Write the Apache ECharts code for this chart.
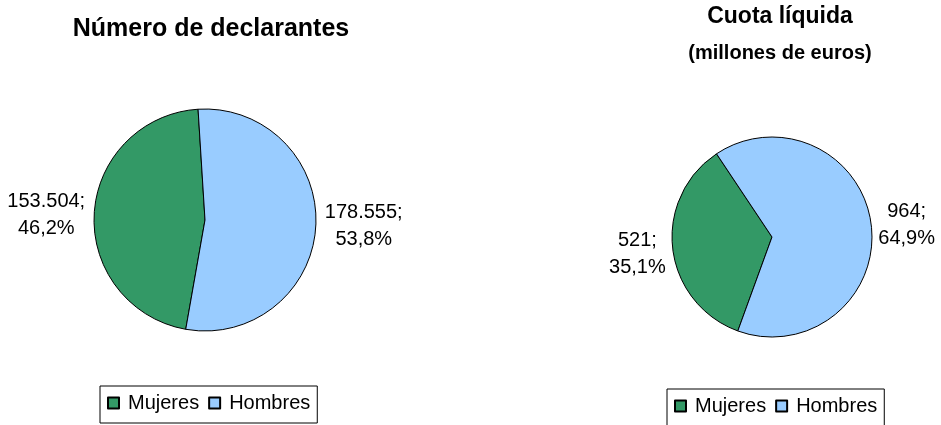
<!DOCTYPE html>
<html>
<head>
<meta charset="utf-8">
<script src="https://cdn.jsdelivr.net/npm/echarts@6/dist/echarts.min.js"></script>
<style>
html,body{margin:0;padding:0;background:#fff;}
#c{width:941px;height:425px;}
</style>
</head>
<body>
<div id="c"></div>
<script>
const categories = ['Mujeres', 'Hombres'];
const declarantes = [153504, 178555];
const cuotaLiquida = [521, 964];
const titleLeft = 'Número de declarantes';
const titleRight = 'Cuota líquida';
const subtitleRight = '(millones de euros)';
const colors = ['#339966', '#99CCFF'];

function fmtThousands(v) {
  return String(v).replace(/\B(?=(\d{3})+(?!\d))/g, '.');
}
function fmtLabel(p) {
  return fmtThousands(p.value) + ';\n' + p.percent.toFixed(1).replace('.', ',') + '%';
}
function mkData(vals) {
  return categories.map((n, i) => ({ name: n, value: vals[i] }));
}
const FONT = '"Liberation Sans", Arial, sans-serif';
function centerLabel(dyLeftSide) {
  return function (p) {
    const r = p.labelRect;
    const cx = r.x + r.width / 2;
    const isLeft = p.dataIndex === 0;
    return { x: cx, y: r.y + r.height / 2 + (isLeft ? dyLeftSide : 0), align: 'center', verticalAlign: 'middle' };
  };
}
const labelCommon = {
  show: true, position: 'outside', formatter: fmtLabel,
  fontFamily: FONT, fontSize: 20, lineHeight: 27, color: '#000'
};
const legendCommon = {
  data: categories, orient: 'horizontal', icon: 'rect',
  itemWidth: 11, itemHeight: 11, itemGap: 9,
  borderColor: '#000', borderWidth: 1, backgroundColor: '#fff',
  padding: [7, 7, 10, 7],
  textStyle: { fontFamily: FONT, fontSize: 20, color: '#000', padding: [0, 0, 0, 4] },
  selectedMode: false
};

const chart = echarts.init(document.getElementById('c'));
chart.setOption({
  animation: false,
  color: colors,
  title: [
    { text: titleLeft, left: 211, top: 17, textAlign: 'center', padding: 0,
      textStyle: { fontFamily: FONT, fontSize: 25, fontWeight: 'bold', color: '#000' } },
    { text: titleRight, subtext: subtitleRight, left: 780, top: 5, textAlign: 'center', padding: 0, itemGap: 15,
      textStyle: { fontFamily: FONT, fontSize: 23, fontWeight: 'bold', color: '#000' },
      subtextStyle: { fontFamily: FONT, fontSize: 20, fontWeight: 'bold', color: '#000' } }
  ],
  legend: [
    Object.assign({ left: 100, top: 386 }, legendCommon),
    Object.assign({ left: 667, top: 389 }, legendCommon)
  ],
  series: [
    {
      type: 'pie', center: [205, 220], radius: 111, startAngle: 260, clockwise: true,
      avoidLabelOverlap: false,
      data: mkData(declarantes),
      itemStyle: { borderColor: '#000', borderWidth: 1 },
      label: labelCommon,
      labelLine: { show: false, length: 4, length2: 0 },
      labelLayout: centerLabel(1),
      emphasis: { disabled: true }
    },
    {
      type: 'pie', center: [772, 237], radius: 100, startAngle: 250, clockwise: true,
      avoidLabelOverlap: false,
      data: mkData(cuotaLiquida),
      itemStyle: { borderColor: '#000', borderWidth: 1 },
      label: labelCommon,
      labelLine: { show: false, length: 2, length2: 0 },
      labelLayout: centerLabel(5),
      emphasis: { disabled: true }
    }
  ]
});
</script>
</body>
</html>
